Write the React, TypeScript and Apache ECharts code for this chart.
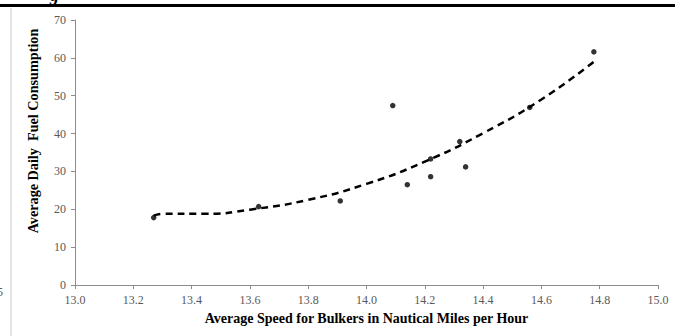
import React, { useEffect, useRef } from "react";
import * as echarts from "echarts";

const speeds = [13.27, 13.63, 13.91, 14.09, 14.14, 14.22, 14.22, 14.32, 14.34, 14.56, 14.78];
const fuel = [17.8, 20.7, 22.2, 47.4, 26.5, 33.3, 28.6, 37.9, 31.2, 46.9, 61.6];
const trendX = [13.27, 13.3, 13.45, 13.6, 13.8, 14.0, 14.2, 14.4, 14.6, 14.78];
const trendY = [18.3, 18.8, 18.8, 19.9, 22.5, 26.7, 32.6, 40.1, 49.0, 59.0];
const xTicks = [13.0, 13.2, 13.4, 13.6, 13.8, 14.0, 14.2, 14.4, 14.6, 14.8, 15.0];
const yTicks = [0, 10, 20, 30, 40, 50, 60, 70];

const xTitle = "Average Speed for Bulkers in Nautical Miles per Hour";
const yTitle = "Average Daily  Fuel Consumption";

export default function App() {
  const ref = useRef<HTMLDivElement>(null);
  useEffect(() => {
    document.body.style.margin = "0";
    const chart = echarts.init(ref.current!, undefined, { renderer: "svg" });
    const axisLabel = { color: "#595959", fontFamily: "Liberation Serif", fontSize: 12 };
    chart.setOption({
      animation: false,
      backgroundColor: "#ffffff",
      grid: { left: 75, right: 17, top: 20, bottom: 51 },
      xAxis: {
        type: "value",
        min: xTicks[0],
        max: xTicks[xTicks.length - 1],
        interval: 0.2,
        axisLine: { lineStyle: { color: "#8c8c8c", width: 1 } },
        axisTick: { show: true, length: 4, lineStyle: { color: "#8c8c8c" } },
        splitLine: { show: false },
        axisLabel: { ...axisLabel, margin: 9, formatter: (v: number) => v.toFixed(1) },
        name: xTitle,
        nameLocation: "middle",
        nameGap: 26,
        nameTextStyle: { fontFamily: "Liberation Serif", fontWeight: "bold", fontSize: 14, color: "#000" },
      },
      yAxis: {
        type: "value",
        min: yTicks[0],
        max: yTicks[yTicks.length - 1],
        interval: 10,
        axisLine: { show: true, lineStyle: { color: "#8c8c8c", width: 1 } },
        axisTick: { show: true, length: 4, lineStyle: { color: "#8c8c8c" } },
        splitLine: { show: false },
        axisLabel: { ...axisLabel, margin: 9 },
      },
      series: [
        {
          type: "line",
          data: trendX.map((x, i) => [x, trendY[i]]),
          smooth: true,
          showSymbol: false,
          symbol: "none",
          lineStyle: { color: "#000", width: 2.5, type: [7, 5] },
          z: 2,
        },
        {
          type: "scatter",
          data: speeds.map((x, i) => [x, fuel[i]]),
          symbol: "circle",
          symbolSize: 5.5,
          itemStyle: { color: "#000" },
          z: 3,
        },
      ],
      graphic: [
        { type: "rect", shape: { x: 0, y: 4, width: 675, height: 3 }, style: { fill: "#000" } },
        { type: "line", shape: { x1: 11, y1: 8, x2: 11, y2: 336 }, style: { stroke: "#c8c8c8", lineWidth: 1 } },
        { type: "text", x: 50, y: -14, style: { text: "g", font: "bold italic 18px 'Liberation Serif'", fill: "#000" } },
        { type: "text", x: -3, y: 286, style: { text: "5", font: "12px 'Liberation Serif'", fill: "#595959" } },
        {
          type: "text",
          x: 33,
          y: 131,
          rotation: Math.PI / 2,
          style: {
            text: yTitle,
            font: "bold 14.2px 'Liberation Serif'",
            fill: "#000",
            align: "center",
            verticalAlign: "middle",
          },
        },
      ],
    });
    return () => chart.dispose();
  }, []);
  return <div ref={ref} style={{ width: 675, height: 336, position: "fixed", left: 0, top: 0 }} />;
}
